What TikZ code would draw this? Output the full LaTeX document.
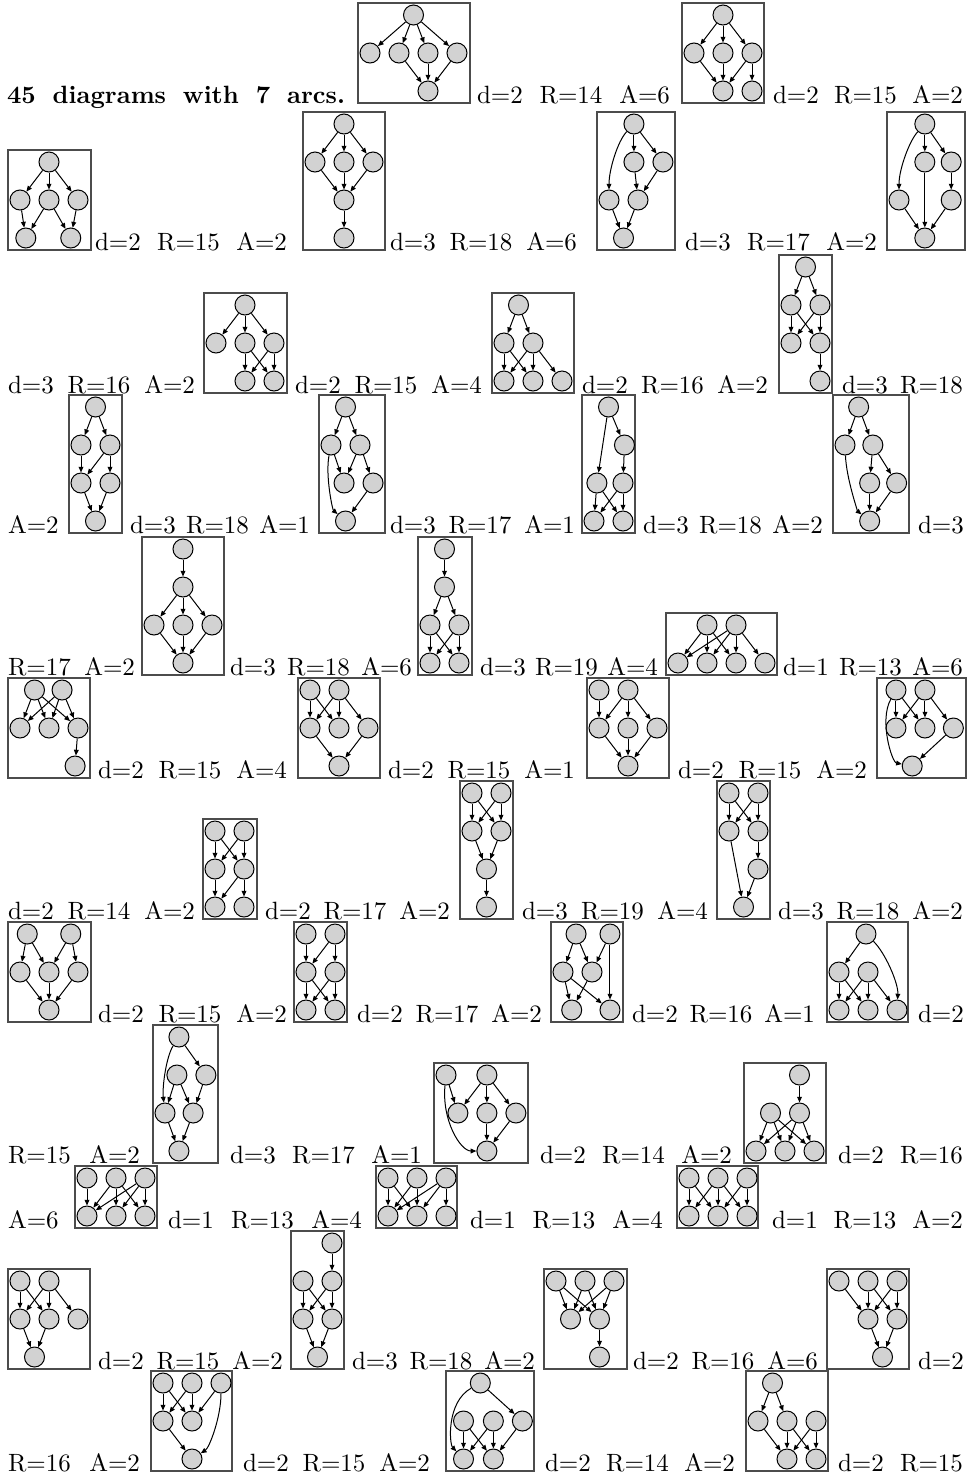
\documentclass[tikz,border=0pt]{standalone}
\usetikzlibrary{arrows.meta}
\newcommand\lab[5]{\pgfmathsetlengthmacro\labw{(#3-#2)*0.4pt}\node[lbl] (#1) at (#2,#4) {\makebox[\labw][s]{#5}};}
\newcommand\labs[4]{\node[lbl] (#1) at (#2,#3) {#4};}
\newcommand\gbox[5]{\pgfmathsetlengthmacro\bw{(#3-#2)*0.4pt}\pgfmathsetlengthmacro\bh{(24+38*(#5-1))*0.4pt}\node[gb,minimum width=\bw,minimum height=\bh,anchor=south west] (#1) at (#2,#4) {};}
\newcommand\V[3]{\node[v] (#1) at (#2,#3) {};}
\begin{document}
\begin{tikzpicture}[x=0.4pt,y=-0.4pt,
  v/.style={circle,draw=black,fill=gray!35,minimum size=8pt,inner sep=0pt,line width=0.4pt},
  e/.style={-{Triangle[length=2.3pt,width=1.9pt]},line width=0.4pt},
  gb/.style={draw=black!70,line width=0.5pt,inner sep=0pt,outer sep=0pt},
  lbl/.style={anchor=base west,inner sep=0pt,outer sep=0pt},
  gs/.style n args={3}{shift={(#1+12,#2-12-38*(#3-1))},x=11.6pt,y=-15.2pt}]
\useasboundingbox (0,0) rectangle (972,1480);

% ---------- texts ----------
\lab{title}{7}{345}{103}{\bfseries 45 diagrams with 7 arcs.}
\lab{t1}{477}{670}{103}{d=2 R=14 A=6}
\lab{t2}{773}{963}{103}{d=2 R=15 A=2}
\lab{t3}{95}{287}{250}{d=2 R=15 A=2}
\lab{t4}{390}{577}{250}{d=3 R=18 A=6}
\lab{t5}{685}{877}{250}{d=3 R=17 A=2}
\lab{t6}{8}{195}{393}{d=3 R=16 A=2}
\lab{t7}{295}{482}{393}{d=2 R=15 A=4}
\lab{t8}{582}{768}{393}{d=2 R=16 A=2}
\lab{t9}{842}{963}{393}{d=3 R=18}
\labs{t10}{8}{533}{A=2}
\lab{t11}{130}{310}{533}{d=3 R=18 A=1}
\lab{t12}{390}{575}{533}{d=3 R=17 A=1}
\lab{t13}{643}{823}{533}{d=3 R=18 A=2}
\labs{t14}{918}{533}{d=3}
\lab{t15}{8}{135}{675}{R=17 A=2}
\lab{t16}{230}{412}{675}{d=3 R=18 A=6}
\lab{t17}{480}{658}{675}{d=3 R=19 A=4}
\lab{t18}{783}{963}{675}{d=1 R=13 A=6}
\lab{t19}{98}{287}{778}{d=2 R=15 A=4}
\lab{t20}{388}{575}{778}{d=2 R=15 A=1}
\lab{t21}{678}{867}{778}{d=2 R=15 A=2}
\lab{t22}{8}{195}{919}{d=2 R=14 A=2}
\lab{t23}{265}{450}{919}{d=2 R=17 A=2}
\lab{t24}{522}{708}{919}{d=3 R=19 A=4}
\lab{t25}{778}{963}{919}{d=3 R=18 A=2}
\lab{t26}{98}{287}{1022}{d=2 R=15 A=2}
\lab{t27}{357}{542}{1022}{d=2 R=17 A=2}
\lab{t28}{632}{815}{1022}{d=2 R=16 A=1}
\labs{t29}{918}{1022}{d=2}
\lab{t30}{8}{140}{1163}{R=15 A=2}
\lab{t31}{230}{422}{1163}{d=3 R=17 A=1}
\lab{t32}{540}{732}{1163}{d=2 R=14 A=2}
\lab{t33}{838}{963}{1163}{d=2 R=16}
\labs{t34}{8}{1228}{A=6}
\lab{t35}{168}{362}{1228}{d=1 R=13 A=4}
\lab{t36}{470}{663}{1228}{d=1 R=13 A=4}
\lab{t37}{772}{963}{1228}{d=1 R=13 A=2}
\lab{t38}{98}{283}{1369}{d=2 R=15 A=2}
\lab{t39}{352}{535}{1369}{d=3 R=18 A=2}
\lab{t40}{633}{818}{1369}{d=2 R=16 A=6}
\labs{t41}{918}{1369}{d=2}
\lab{t42}{8}{140}{1471}{R=16 A=2}
\lab{t43}{243}{430}{1471}{d=2 R=15 A=2}
\lab{t44}{545}{735}{1471}{d=2 R=14 A=2}
\lab{t45}{838}{963}{1471}{d=2 R=15}

% ---------- graphs ----------
\gbox{b1}{358}{470}{103}{3}
\begin{scope}[gs={358}{103}{3}]
\V{g1a}{1.5}{0}\V{g1b}{0}{1}\V{g1c}{1}{1}\V{g1d}{2}{1}\V{g1e}{3}{1}\V{g1f}{2}{2}
\foreach \s/\t in {a/b,a/c,a/d,a/e,c/f,d/f,e/f} \draw[e] (g1\s) -- (g1\t);
\end{scope}

\gbox{b2}{682}{764}{103}{3}
\begin{scope}[gs={682}{103}{3}]
\V{g2a}{1}{0}\V{g2b}{0}{1}\V{g2c}{1}{1}\V{g2d}{2}{1}\V{g2e}{1}{2}\V{g2f}{2}{2}
\foreach \s/\t in {a/b,a/c,a/d,b/e,c/e,d/e,d/f} \draw[e] (g2\s) -- (g2\t);
\end{scope}

\gbox{b3}{8}{91}{250}{3}
\begin{scope}[gs={8}{250}{3}]
\V{g3a}{1}{0}\V{g3b}{0}{1}\V{g3c}{1}{1}\V{g3d}{2}{1}\V{g3e}{0.2}{2}\V{g3f}{1.75}{2}
\foreach \s/\t in {a/b,a/c,a/d,b/e,c/e,c/f,d/f} \draw[e] (g3\s) -- (g3\t);
\end{scope}

\gbox{b4}{303}{385}{250}{4}
\begin{scope}[gs={303}{250}{4}]
\V{g4a}{1}{0}\V{g4b}{0}{1}\V{g4c}{1}{1}\V{g4d}{2}{1}\V{g4e}{1}{2}\V{g4f}{1}{3}
\foreach \s/\t in {a/b,a/c,a/d,b/e,c/e,d/e,e/f} \draw[e] (g4\s) -- (g4\t);
\end{scope}

\gbox{b5}{597}{675}{250}{4}
\begin{scope}[gs={597}{250}{4}]
\V{g5a}{0.86}{0}\V{g5b}{0.86}{1}\V{g5c}{1.86}{1}\V{g5d}{0}{2}\V{g5e}{1}{2}\V{g5f}{0.5}{3}
\foreach \s/\t in {a/b,a/c,b/e,c/e,d/f,e/f} \draw[e] (g5\s) -- (g5\t);
\draw[e] (g5a) .. controls (0.3,0.45) and (0,1.2) .. (g5d);
\end{scope}

\gbox{b6}{887}{965}{250}{4}
\begin{scope}[gs={887}{250}{4}]
\V{g6a}{0.89}{0}\V{g6b}{0.89}{1}\V{g6c}{1.8}{1}\V{g6d}{0}{2}\V{g6e}{1.8}{2}\V{g6f}{0.89}{3}
\foreach \s/\t in {a/b,a/c,b/f,c/e,d/f,e/f} \draw[e] (g6\s) -- (g6\t);
\draw[e] (g6a) .. controls (0.35,0.45) and (0,1.2) .. (g6d);
\end{scope}

\gbox{b7}{204}{287}{393}{3}
\begin{scope}[gs={204}{393}{3}]
\V{g7a}{1}{0}\V{g7b}{0}{1}\V{g7c}{1}{1}\V{g7d}{2}{1}\V{g7e}{1}{2}\V{g7f}{2}{2}
\foreach \s/\t in {a/b,a/c,a/d,c/e,c/f,d/e,d/f} \draw[e] (g7\s) -- (g7\t);
\end{scope}

\gbox{b8}{492}{574}{393}{3}
\begin{scope}[gs={492}{393}{3}]
\V{g8a}{0.5}{0}\V{g8b}{0}{1}\V{g8c}{1}{1}\V{g8d}{0}{2}\V{g8e}{1}{2}\V{g8f}{2}{2}
\foreach \s/\t in {a/b,a/c,b/d,b/e,c/d,c/e,c/f} \draw[e] (g8\s) -- (g8\t);
\end{scope}

\gbox{b9}{779}{832}{393}{4}
\begin{scope}[gs={779}{393}{4}]
\V{g9a}{0.5}{0}\V{g9b}{0}{1}\V{g9c}{1}{1}\V{g9d}{0}{2}\V{g9e}{1}{2}\V{g9f}{1}{3}
\foreach \s/\t in {a/b,a/c,b/d,b/e,c/d,c/e,e/f} \draw[e] (g9\s) -- (g9\t);
\end{scope}

\gbox{b10}{69}{122}{533}{4}
\begin{scope}[gs={69}{533}{4}]
\V{g10a}{0.5}{0}\V{g10b}{0}{1}\V{g10c}{1}{1}\V{g10d}{0}{2}\V{g10e}{1}{2}\V{g10f}{0.5}{3}
\foreach \s/\t in {a/b,a/c,b/d,c/d,c/e,d/f,e/f} \draw[e] (g10\s) -- (g10\t);
\end{scope}

\gbox{b11}{319}{385}{533}{4}
\begin{scope}[gs={319}{533}{4}]
\V{g11a}{0.5}{0}\V{g11b}{0}{1}\V{g11c}{1}{1}\V{g11d}{0.45}{2}\V{g11e}{1.45}{2}\V{g11f}{0.5}{3}
\foreach \s/\t in {a/b,a/c,b/d,c/d,c/e,e/f} \draw[e] (g11\s) -- (g11\t);
\draw[e] (g11b) .. controls (-0.2,1.8) and (0.05,2.7) .. (g11f);
\end{scope}

\gbox{b12}{582}{635}{533}{4}
\begin{scope}[gs={582}{533}{4}]
\V{g12a}{0.5}{0}\V{g12b}{1.05}{1}\V{g12c}{0.1}{2}\V{g12d}{1}{2}\V{g12e}{0}{3}\V{g12f}{1}{3}
\foreach \s/\t in {a/b,a/c,b/d,c/e,c/f,d/e,d/f} \draw[e] (g12\s) -- (g12\t);
\end{scope}

\gbox{b13}{833}{909}{533}{4}
\begin{scope}[gs={833}{533}{4}]
\V{g13a}{0.47}{0}\V{g13b}{0}{1}\V{g13c}{0.96}{1}\V{g13d}{0.85}{2}\V{g13e}{1.78}{2}\V{g13f}{0.85}{3}
\foreach \s/\t in {a/b,a/c,c/d,c/e,d/f,e/f} \draw[e] (g13\s) -- (g13\t);
\draw[e] (g13b) .. controls (0.05,1.9) and (0.45,2.75) .. (g13f);
\end{scope}

\gbox{b14}{142}{224}{675}{4}
\begin{scope}[gs={142}{675}{4}]
\V{g14a}{1}{0}\V{g14b}{1}{1}\V{g14c}{0}{2}\V{g14d}{1}{2}\V{g14e}{2}{2}\V{g14f}{1}{3}
\foreach \s/\t in {a/b,b/c,b/d,b/e,c/f,d/f,e/f} \draw[e] (g14\s) -- (g14\t);
\end{scope}

\gbox{b15}{418}{472}{675}{4}
\begin{scope}[gs={418}{675}{4}]
\V{g15a}{0.5}{0}\V{g15b}{0.5}{1}\V{g15c}{0}{2}\V{g15d}{1}{2}\V{g15e}{0}{3}\V{g15f}{1}{3}
\foreach \s/\t in {a/b,b/c,b/d,c/e,c/f,d/e,d/f} \draw[e] (g15\s) -- (g15\t);
\end{scope}

\gbox{b16}{666}{777}{675}{2}
\begin{scope}[gs={666}{675}{2}]
\V{g16a}{1}{0}\V{g16b}{2}{0}\V{g16c}{0}{1}\V{g16d}{1}{1}\V{g16e}{2}{1}\V{g16f}{3}{1}
\foreach \s/\t in {a/c,a/d,a/e,b/c,b/d,b/e,b/f} \draw[e] (g16\s) -- (g16\t);
\end{scope}

\gbox{b17}{8}{90}{778}{3}
\begin{scope}[gs={8}{778}{3}]
\V{g17a}{0.5}{0}\V{g17b}{1.45}{0}\V{g17c}{0}{1}\V{g17d}{1}{1}\V{g17e}{2}{1}\V{g17f}{1.9}{2}
\foreach \s/\t in {a/c,a/d,a/e,b/c,b/d,b/e,e/f} \draw[e] (g17\s) -- (g17\t);
\end{scope}

\gbox{b18}{298}{380}{778}{3}
\begin{scope}[gs={298}{778}{3}]
\V{g18a}{0}{0}\V{g18b}{1}{0}\V{g18c}{0}{1}\V{g18d}{1}{1}\V{g18e}{2}{1}\V{g18f}{1}{2}
\foreach \s/\t in {a/c,a/d,b/c,b/d,b/e,c/f,e/f} \draw[e] (g18\s) -- (g18\t);
\end{scope}

\gbox{b19}{587}{669}{778}{3}
\begin{scope}[gs={587}{778}{3}]
\V{g19a}{0}{0}\V{g19b}{1}{0}\V{g19c}{0}{1}\V{g19d}{1}{1}\V{g19e}{2}{1}\V{g19f}{1}{2}
\foreach \s/\t in {a/c,b/c,b/d,b/e,c/f,d/f,e/f} \draw[e] (g19\s) -- (g19\t);
\end{scope}

\gbox{b20}{877}{966}{778}{3}
\begin{scope}[gs={877}{778}{3}]
\V{g20a}{0.24}{0}\V{g20b}{1.24}{0}\V{g20c}{0.24}{1}\V{g20d}{1.24}{1}\V{g20e}{2.22}{1}\V{g20f}{0.8}{2}
\foreach \s/\t in {a/c,a/d,b/c,b/d,b/e,e/f} \draw[e] (g20\s) -- (g20\t);
\draw[e] (g20a) .. controls (-0.35,0.8) and (0.1,1.9) .. (g20f);
\end{scope}

\gbox{b21}{203}{257}{919}{3}
\begin{scope}[gs={203}{919}{3}]
\V{g21a}{0}{0}\V{g21b}{1}{0}\V{g21c}{0}{1}\V{g21d}{1}{1}\V{g21e}{0}{2}\V{g21f}{1}{2}
\foreach \s/\t in {a/c,a/d,b/c,b/d,c/e,d/e,d/f} \draw[e] (g21\s) -- (g21\t);
\end{scope}

\gbox{b22}{460}{513}{919}{4}
\begin{scope}[gs={460}{919}{4}]
\V{g22a}{0}{0}\V{g22b}{1}{0}\V{g22c}{0}{1}\V{g22d}{1}{1}\V{g22e}{0.5}{2}\V{g22f}{0.5}{3}
\foreach \s/\t in {a/c,a/d,b/c,b/d,c/e,d/e,e/f} \draw[e] (g22\s) -- (g22\t);
\end{scope}

\gbox{b23}{717}{770}{919}{4}
\begin{scope}[gs={717}{919}{4}]
\V{g23a}{0}{0}\V{g23b}{1}{0}\V{g23c}{0}{1}\V{g23d}{1}{1}\V{g23e}{1}{2}\V{g23f}{0.5}{3}
\foreach \s/\t in {a/c,a/d,b/c,b/d,c/f,d/e,e/f} \draw[e] (g23\s) -- (g23\t);
\end{scope}

\gbox{b24}{8}{91}{1022}{3}
\begin{scope}[gs={8}{1022}{3}]
\V{g24a}{0.25}{0}\V{g24b}{1.75}{0}\V{g24c}{0}{1}\V{g24d}{1}{1}\V{g24e}{2}{1}\V{g24f}{1}{2}
\foreach \s/\t in {a/c,a/d,b/d,b/e,c/f,d/f,e/f} \draw[e] (g24\s) -- (g24\t);
\end{scope}

\gbox{b25}{294}{347}{1022}{3}
\begin{scope}[gs={294}{1022}{3}]
\V{g25a}{0}{0}\V{g25b}{1}{0}\V{g25c}{0}{1}\V{g25d}{1}{1}\V{g25e}{0}{2}\V{g25f}{1}{2}
\foreach \s/\t in {a/c,b/c,b/d,c/e,c/f,d/e,d/f} \draw[e] (g25\s) -- (g25\t);
\end{scope}

\gbox{b26}{551}{623}{1022}{3}
\begin{scope}[gs={551}{1022}{3}]
\V{g26a}{0.45}{0}\V{g26b}{1.62}{0}\V{g26c}{0}{1}\V{g26d}{1}{1}\V{g26e}{0.3}{2}\V{g26f}{1.62}{2}
\foreach \s/\t in {a/c,a/d,b/d,b/f,c/e,c/f,d/e} \draw[e] (g26\s) -- (g26\t);
\end{scope}

\gbox{b27}{827}{908}{1022}{3}
\begin{scope}[gs={827}{1022}{3}]
\V{g27a}{0.93}{0}\V{g27b}{0}{1}\V{g27c}{1}{1}\V{g27d}{0}{2}\V{g27e}{1}{2}\V{g27f}{2}{2}
\foreach \s/\t in {a/b,b/d,b/e,c/d,c/e,c/f} \draw[e] (g27\s) -- (g27\t);
\draw[e] (g27a) .. controls (1.6,0.5) and (2.05,1.3) .. (g27f);
\end{scope}

\gbox{b28}{153}{218}{1163}{4}
\begin{scope}[gs={153}{1163}{4}]
\V{g28a}{0.48}{0}\V{g28b}{0.41}{1}\V{g28c}{1.41}{1}\V{g28d}{0}{2}\V{g28e}{0.97}{2}\V{g28f}{0.48}{3}
\foreach \s/\t in {a/c,b/d,b/e,c/e,d/f,e/f} \draw[e] (g28\s) -- (g28\t);
\draw[e] (g28a) .. controls (0.05,0.5) and (-0.1,1.3) .. (g28d);
\end{scope}

\gbox{b29}{434}{528}{1163}{3}
\begin{scope}[gs={434}{1163}{3}]
\V{g29a}{0}{0}\V{g29b}{1.41}{0}\V{g29c}{0.41}{1}\V{g29d}{1.41}{1}\V{g29e}{2.41}{1}\V{g29f}{1.41}{2}
\foreach \s/\t in {a/c,b/c,b/d,b/e,d/f,e/f} \draw[e] (g29\s) -- (g29\t);
\draw[e] (g29a) .. controls (-0.15,1.2) and (0.5,2.0) .. (g29f);
\end{scope}

\gbox{b30}{744}{826}{1163}{3}
\begin{scope}[gs={744}{1163}{3}]
\V{g30a}{1.5}{0}\V{g30b}{0.5}{1}\V{g30c}{1.5}{1}\V{g30d}{0}{2}\V{g30e}{1}{2}\V{g30f}{2}{2}
\foreach \s/\t in {a/c,b/d,b/e,b/f,c/d,c/e,c/f} \draw[e] (g30\s) -- (g30\t);
\end{scope}

\gbox{b31}{75}{157}{1228}{2}
\begin{scope}[gs={75}{1228}{2}]
\V{g31a}{0}{0}\V{g31b}{1}{0}\V{g31c}{2}{0}\V{g31d}{0}{1}\V{g31e}{1}{1}\V{g31f}{2}{1}
\foreach \s/\t in {a/d,b/d,b/e,b/f,c/d,c/e,c/f} \draw[e] (g31\s) -- (g31\t);
\end{scope}

\gbox{b32}{376}{457}{1228}{2}
\begin{scope}[gs={376}{1228}{2}]
\V{g32a}{0}{0}\V{g32b}{1}{0}\V{g32c}{2}{0}\V{g32d}{0}{1}\V{g32e}{1}{1}\V{g32f}{2}{1}
\foreach \s/\t in {a/d,a/e,b/d,b/e,c/d,c/e,c/f} \draw[e] (g32\s) -- (g32\t);
\end{scope}

\gbox{b33}{677}{758}{1228}{2}
\begin{scope}[gs={677}{1228}{2}]
\V{g33a}{0}{0}\V{g33b}{1}{0}\V{g33c}{2}{0}\V{g33d}{0}{1}\V{g33e}{1}{1}\V{g33f}{2}{1}
\foreach \s/\t in {a/d,a/e,b/d,b/e,b/f,c/e,c/f} \draw[e] (g33\s) -- (g33\t);
\end{scope}

\gbox{b34}{8}{90}{1369}{3}
\begin{scope}[gs={8}{1369}{3}]
\V{g34a}{0}{0}\V{g34b}{1}{0}\V{g34c}{0}{1}\V{g34d}{1}{1}\V{g34e}{2}{1}\V{g34f}{0.5}{2}
\foreach \s/\t in {a/c,a/d,b/c,b/d,b/e,c/f,d/f} \draw[e] (g34\s) -- (g34\t);
\end{scope}

\gbox{b35}{291}{344}{1369}{4}
\begin{scope}[gs={291}{1369}{4}]
\V{g35a}{1}{0}\V{g35b}{0}{1}\V{g35c}{1}{1}\V{g35d}{0}{2}\V{g35e}{1}{2}\V{g35f}{0.5}{3}
\foreach \s/\t in {a/c,b/d,b/e,c/d,c/e,d/f,e/f} \draw[e] (g35\s) -- (g35\t);
\end{scope}

\gbox{b36}{544}{627}{1369}{3}
\begin{scope}[gs={544}{1369}{3}]
\V{g36a}{0}{0}\V{g36b}{1}{0}\V{g36c}{2}{0}\V{g36d}{0.5}{1}\V{g36e}{1.5}{1}\V{g36f}{1.5}{2}
\foreach \s/\t in {a/d,a/e,b/d,b/e,c/d,c/e,e/f} \draw[e] (g36\s) -- (g36\t);
\end{scope}

\gbox{b37}{827}{909}{1369}{3}
\begin{scope}[gs={827}{1369}{3}]
\V{g37a}{0}{0}\V{g37b}{1}{0}\V{g37c}{2}{0}\V{g37d}{1}{1}\V{g37e}{2}{1}\V{g37f}{1.5}{2}
\foreach \s/\t in {a/d,b/d,b/e,c/d,c/e,d/f,e/f} \draw[e] (g37\s) -- (g37\t);
\end{scope}

\gbox{b38}{151}{232}{1471}{3}
\begin{scope}[gs={151}{1471}{3}]
\V{g38a}{0}{0}\V{g38b}{1}{0}\V{g38c}{2}{0}\V{g38d}{0}{1}\V{g38e}{1}{1}\V{g38f}{1}{2}
\foreach \s/\t in {a/d,a/e,b/d,b/e,c/e,d/f} \draw[e] (g38\s) -- (g38\t);
\draw[e] (g38c) .. controls (2.0,0.9) and (1.6,1.7) .. (g38f);
\end{scope}

\gbox{b39}{446}{534}{1471}{3}
\begin{scope}[gs={446}{1471}{3}]
\V{g39a}{0.77}{0}\V{g39b}{0.19}{1}\V{g39c}{1.22}{1}\V{g39d}{2.22}{1}\V{g39e}{0.19}{2}\V{g39f}{1.22}{2}
\foreach \s/\t in {a/d,b/e,b/f,c/e,c/f,d/f} \draw[e] (g39\s) -- (g39\t);
\draw[e] (g39a) .. controls (-0.4,0.5) and (-0.3,1.6) .. (g39e);
\end{scope}

\gbox{b40}{746}{828}{1471}{3}
\begin{scope}[gs={746}{1471}{3}]
\V{g40a}{0.5}{0}\V{g40b}{0}{1}\V{g40c}{1}{1}\V{g40d}{2}{1}\V{g40e}{1}{2}\V{g40f}{2}{2}
\foreach \s/\t in {a/b,a/c,b/e,c/e,c/f,d/e,d/f} \draw[e] (g40\s) -- (g40\t);
\end{scope}
\end{tikzpicture}
\end{document}
